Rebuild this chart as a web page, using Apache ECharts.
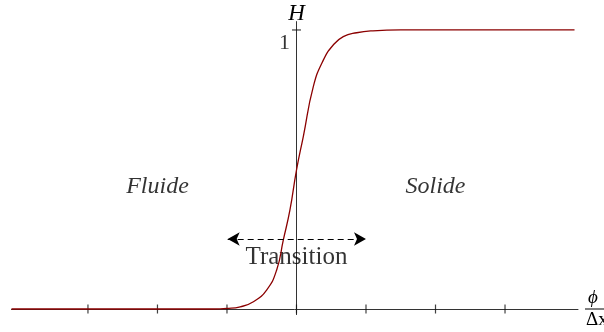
<!DOCTYPE html>
<html>
<head>
<meta charset="utf-8">
<script src="https://cdn.jsdelivr.net/npm/echarts@6/dist/echarts.min.js"></script>
<style>
html,body{margin:0;padding:0;background:#fff;}
#chart{width:604px;height:332px;}
</style>
</head>
<body>
<div id="chart"></div>
<script>
// Curve values (x = phi/Δx, H)
const curveX = [-4.1, -1.2, -1.0, -0.81, -0.62, -0.43, -0.285, -0.19, -0.094, 0.0, 0.098, 0.242, 0.386, 0.529, 0.673, 0.866, 1.10, 1.5, 4.0];
const curveH = [0, 0, 0.002, 0.008, 0.026, 0.068, 0.140, 0.247, 0.355, 0.498, 0.618, 0.797, 0.892, 0.946, 0.976, 0.990, 0.997, 1.0, 1.0];
const xTicks = [-3, -2, -1, 0, 1, 2, 3];
const yTicks = [1];
const yTickLabels = ['1'];
const regionLabels = ['Fluide', 'Solide'];
const transitionLabel = 'Transition';
const axisNameY = 'H';

const serif = '"Liberation Serif", "DejaVu Serif", serif';
const chart = echarts.init(document.getElementById('chart'), null, {renderer: 'canvas'});

const curveData = curveX.map((x, i) => [x, curveH[i]]);

const option = {
  animation: false,
  backgroundColor: '#fff',
  grid: {left: 11.5, right: 26, top: 21.6, bottom: 17.4, containLabel: false, outerBoundsMode: 'none'},
  xAxis: {
    type: 'value', min: -4.1, max: 4.05,
    axisLine: {onZero: true, lineStyle: {color: '#333', width: 1}},
    axisTick: {show: false}, axisLabel: {show: false}, splitLine: {show: false}
  },
  yAxis: {
    type: 'value', min: -0.02, max: 1.03,
    name: axisNameY, nameLocation: 'end', nameGap: 8,
    nameTextStyle: {fontFamily: serif, fontStyle: 'italic', fontSize: 23, color: '#000', align: 'center', verticalAlign: 'middle'},
    axisLine: {onZero: true, lineStyle: {color: '#333', width: 1}},
    axisTick: {show: false}, axisLabel: {show: false}, splitLine: {show: false}
  },
  series: [
    {
      type: 'scatter', silent: true,
      data: xTicks.map(x => [x, 0]),
      symbol: 'rect', symbolSize: [1.2, 9],
      itemStyle: {color: '#111'}
    },
    {
      type: 'scatter', silent: true,
      data: yTicks.map((y, i) => ({value: [0, y], label: {show: true, formatter: yTickLabels[i]}})),
      symbol: 'rect', symbolSize: [9, 1.2],
      itemStyle: {color: '#111'},
      label: {position: 'left', offset: [0, 13], distance: 2, fontFamily: serif, fontSize: 22, color: '#000'}
    },
    {
      type: 'line', data: curveData, showSymbol: false, symbol: 'none',
      smooth: 0.5,
      lineStyle: {color: '#8b0000', width: 1.3},
      z: 3,
      markLine: {
        silent: true, symbol: ['arrow', 'arrow'], symbolSize: [10, 12],
        label: {show: false},
        lineStyle: {color: '#000', type: [6, 4], width: 1.2},
        data: [[{coord: [-0.99, 0.251]}, {coord: [1.0, 0.251]}]]
      }
    },
    {
      type: 'scatter', silent: true, symbolSize: 0,
      data: [
        {value: [-2, 0.44], label: {formatter: regionLabels[0], fontStyle: 'italic'}},
        {value: [2, 0.44], label: {formatter: regionLabels[1], fontStyle: 'italic'}},
        {value: [0, 0.186], label: {formatter: transitionLabel, fontSize: 25}}
      ],
      label: {show: true, position: 'inside', fontFamily: serif, fontSize: 24, color: '#000'}
    }
  ],
  graphic: [
    {type: 'text', left: 588, top: 288, style: {text: 'ϕ', font: 'italic 19px ' + serif, fill: '#000'}},
    {type: 'line', shape: {x1: 585, y1: 309, x2: 604, y2: 309}, style: {stroke: '#000', lineWidth: 1}},
    {type: 'text', left: 586, top: 311, style: {text: 'Δx', font: '19px ' + serif, fill: '#000'}}
  ]
};
chart.setOption(option);
</script>
</body>
</html>
